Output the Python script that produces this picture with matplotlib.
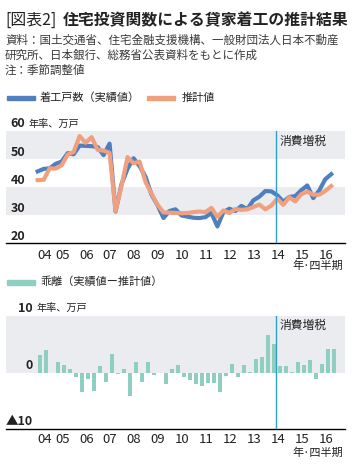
"""Rental housing starts: actual vs. housing-investment-function estimate."""

import matplotlib

matplotlib.use("Agg")
import matplotlib.pyplot as plt
import numpy as np
from matplotlib.patches import Rectangle

plt.rcParams["font.family"] = ["Noto Sans CJK JP", "DejaVu Sans"]

W, H = 353, 471

# quarterly, 2004Q2 .. 2016Q3 (annualised, 10k units)
actual = [45.5, 46.4, 46.6, 48.2, 49.0, 52.0, 51.6, 54.7, 54.6, 54.5,
          54.2, 51.3, 55.4, 31.2, 41.0, 46.4, 50.2, 47.4, 43.6, 37.2,
          33.5, 28.9, 31.4, 32.0, 29.8, 29.4, 29.0, 28.9, 29.2, 30.7,
          25.9, 31.0, 32.2, 31.4, 33.2, 32.1, 35.2, 36.5, 38.5, 38.4,
          37.0, 34.7, 36.4, 36.7, 38.8, 40.5, 36.0, 38.7, 42.7, 44.5]
estimate = [42.4, 42.5, 46.6, 46.5, 47.7, 51.5, 52.4, 58.1, 55.7, 57.7,
            53.2, 52.9, 52.1, 31.4, 40.4, 50.6, 48.4, 49.0, 41.7, 37.6,
            33.6, 30.9, 30.8, 30.7, 30.6, 30.7, 31.0, 31.2, 31.0, 32.5,
            29.3, 31.6, 30.7, 32.1, 31.8, 32.0, 32.8, 33.7, 32.0, 33.3,
            35.8, 33.6, 36.3, 34.8, 37.4, 38.3, 37.2, 37.2, 38.5, 40.3]
gap = [3.1, 4.0, -0.1, 1.8, 1.4, 0.6, -0.8, -3.4, -1.2, -3.2,
       1.1, -1.6, 3.3, -0.2, 0.6, -4.2, 1.8, -1.6, 1.9, -0.4,
       -0.1, -2.0, 0.6, 1.3, -0.8, -1.3, -2.0, -2.3, -1.8, -1.8,
       -3.4, -0.6, 1.5, -0.7, 1.4, 0.1, 2.4, 2.8, 6.6, 5.1,
       1.2, 1.1, 0.1, 1.9, 1.4, 2.2, -1.2, 1.5, 4.2, 4.2]
year_labels = ["04", "05", "06", "07", "08", "09", "10", "11", "12", "13", "14", "15", "16"]
tax_hike_q = 39.7  # 2014Q2

BLUE = "#4f7fbf"
ORANGE = "#f0a07e"
TEAL = "#8fcfc1"
BAND = "#eaecef"
VLINE = "#2f9fcc"
TXT = "#222222"

idx = np.arange(len(actual))
tick_pos = [1.2] + [3 + 4 * k + 1.1 for k in range(12)]
XLIM = (-5.29, 51.3)


def fx(x):
    return x / W


def fy(y):
    return 1 - y / H


fig = plt.figure(figsize=(W / 100, H / 100), dpi=100)

# header
fig.text(fx(5), fy(20), "[図表2]", fontsize=11.4, color=TXT, va="center")
fig.text(fx(63), fy(20), "住宅投資関数による貸家着工の推計結果", fontsize=11.4,
         fontweight="bold", color=TXT, va="center")
src = ["資料：国土交通省、住宅金融支援機構、一般財団法人日本不動産",
       "研究所、日本銀行、総務省公表資料をもとに作成",
       "注：季節調整値"]
for k, line in enumerate(src):
    fig.text(fx(5), fy(40 + 15 * k), line, fontsize=8.3, color="#3a3a3a", va="center")

# legend rows
fig.add_artist(Rectangle((fx(7), fy(100)), fx(28), 4 / H, color=BLUE, transform=fig.transFigure))
fig.text(fx(40), fy(98), "着工戸数（実績値）", fontsize=8, color=TXT, va="center")
fig.add_artist(Rectangle((fx(147), fy(100)), fx(28), 4 / H, color=ORANGE, transform=fig.transFigure))
fig.text(fx(182), fy(98), "推計値", fontsize=8, color=TXT, va="center")
fig.add_artist(Rectangle((fx(7), fy(285)), fx(28), 5 / H, color=TEAL, transform=fig.transFigure))
fig.text(fx(40), fy(282), "乖離（実績値ー推計値）", fontsize=8, color=TXT, va="center")


def style_axis(ax, pad):
    for s in ["top", "left", "right"]:
        ax.spines[s].set_visible(False)
    ax.spines["bottom"].set_color("black")
    ax.spines["bottom"].set_linewidth(1.0)
    ax.set_yticks([])
    ax.set_xlim(*XLIM)
    ax.set_xticks(tick_pos, year_labels)
    ax.tick_params(axis="x", length=0, pad=pad, labelsize=9.5, labelcolor=TXT)
    ax.patch.set_alpha(0)


# upper panel: levels
ax1 = fig.add_axes([fx(6), fy(243), fx(339), (243 - 130.7) / H])
ax1.set_ylim(20, 60)
ax1.axhspan(50, 60, color=BAND, lw=0, zorder=0)
ax1.axhspan(30, 40, color=BAND, lw=0, zorder=0)
ax1.plot(idx, actual, color=BLUE, lw=3.0, zorder=3)
ax1.plot(idx, estimate, color=ORANGE, lw=3.0, zorder=4)
ax1.axvline(tax_hike_q, color=VLINE, lw=1.0, zorder=5)
style_axis(ax1, 4.5)
for v in [60, 50, 40, 30, 20]:
    ax1.text(0.056, v + 2.4, str(v), transform=ax1.get_yaxis_transform(), ha="right",
             va="center", fontsize=9, fontweight="bold", color=TXT, clip_on=False)
fig.text(fx(29), fy(124), "年率、万戸", fontsize=7.3, color=TXT, va="center")
fig.text(fx(280), fy(141.5), "消費増税", fontsize=8.5, color=TXT, va="center")
fig.text(fx(343), fy(266), "年·四半期", fontsize=8, color=TXT, ha="right", va="center")

# lower panel: gap
ax2 = fig.add_axes([fx(6), fy(429.3), fx(339), (429.3 - 316) / H])
ax2.set_ylim(-10, 10)
ax2.axhspan(0, 10, color=BAND, lw=0, zorder=0)
ax2.bar(idx + 0.1, gap, width=0.7, align="edge", color=TEAL, lw=0, zorder=3)
ax2.axvline(tax_hike_q, color=VLINE, lw=1.0, zorder=5)
style_axis(ax2, 3.0)
for v, lab in [(10, "10"), (0, "0"), (-10, "▲10")]:
    ax2.text(0.08, v + 1.3, lab, transform=ax2.get_yaxis_transform(), ha="right",
             va="center", fontsize=9, fontweight="bold", color=TXT, clip_on=False)
fig.text(fx(37), fy(308), "年率、万戸", fontsize=7.3, color=TXT, va="center")
fig.text(fx(280), fy(325), "消費増税", fontsize=8.5, color=TXT, va="center")
fig.text(fx(343), fy(453), "年·四半期", fontsize=8, color=TXT, ha="right", va="center")

fig.savefig("out.png", dpi=100)
plt.close(fig)
